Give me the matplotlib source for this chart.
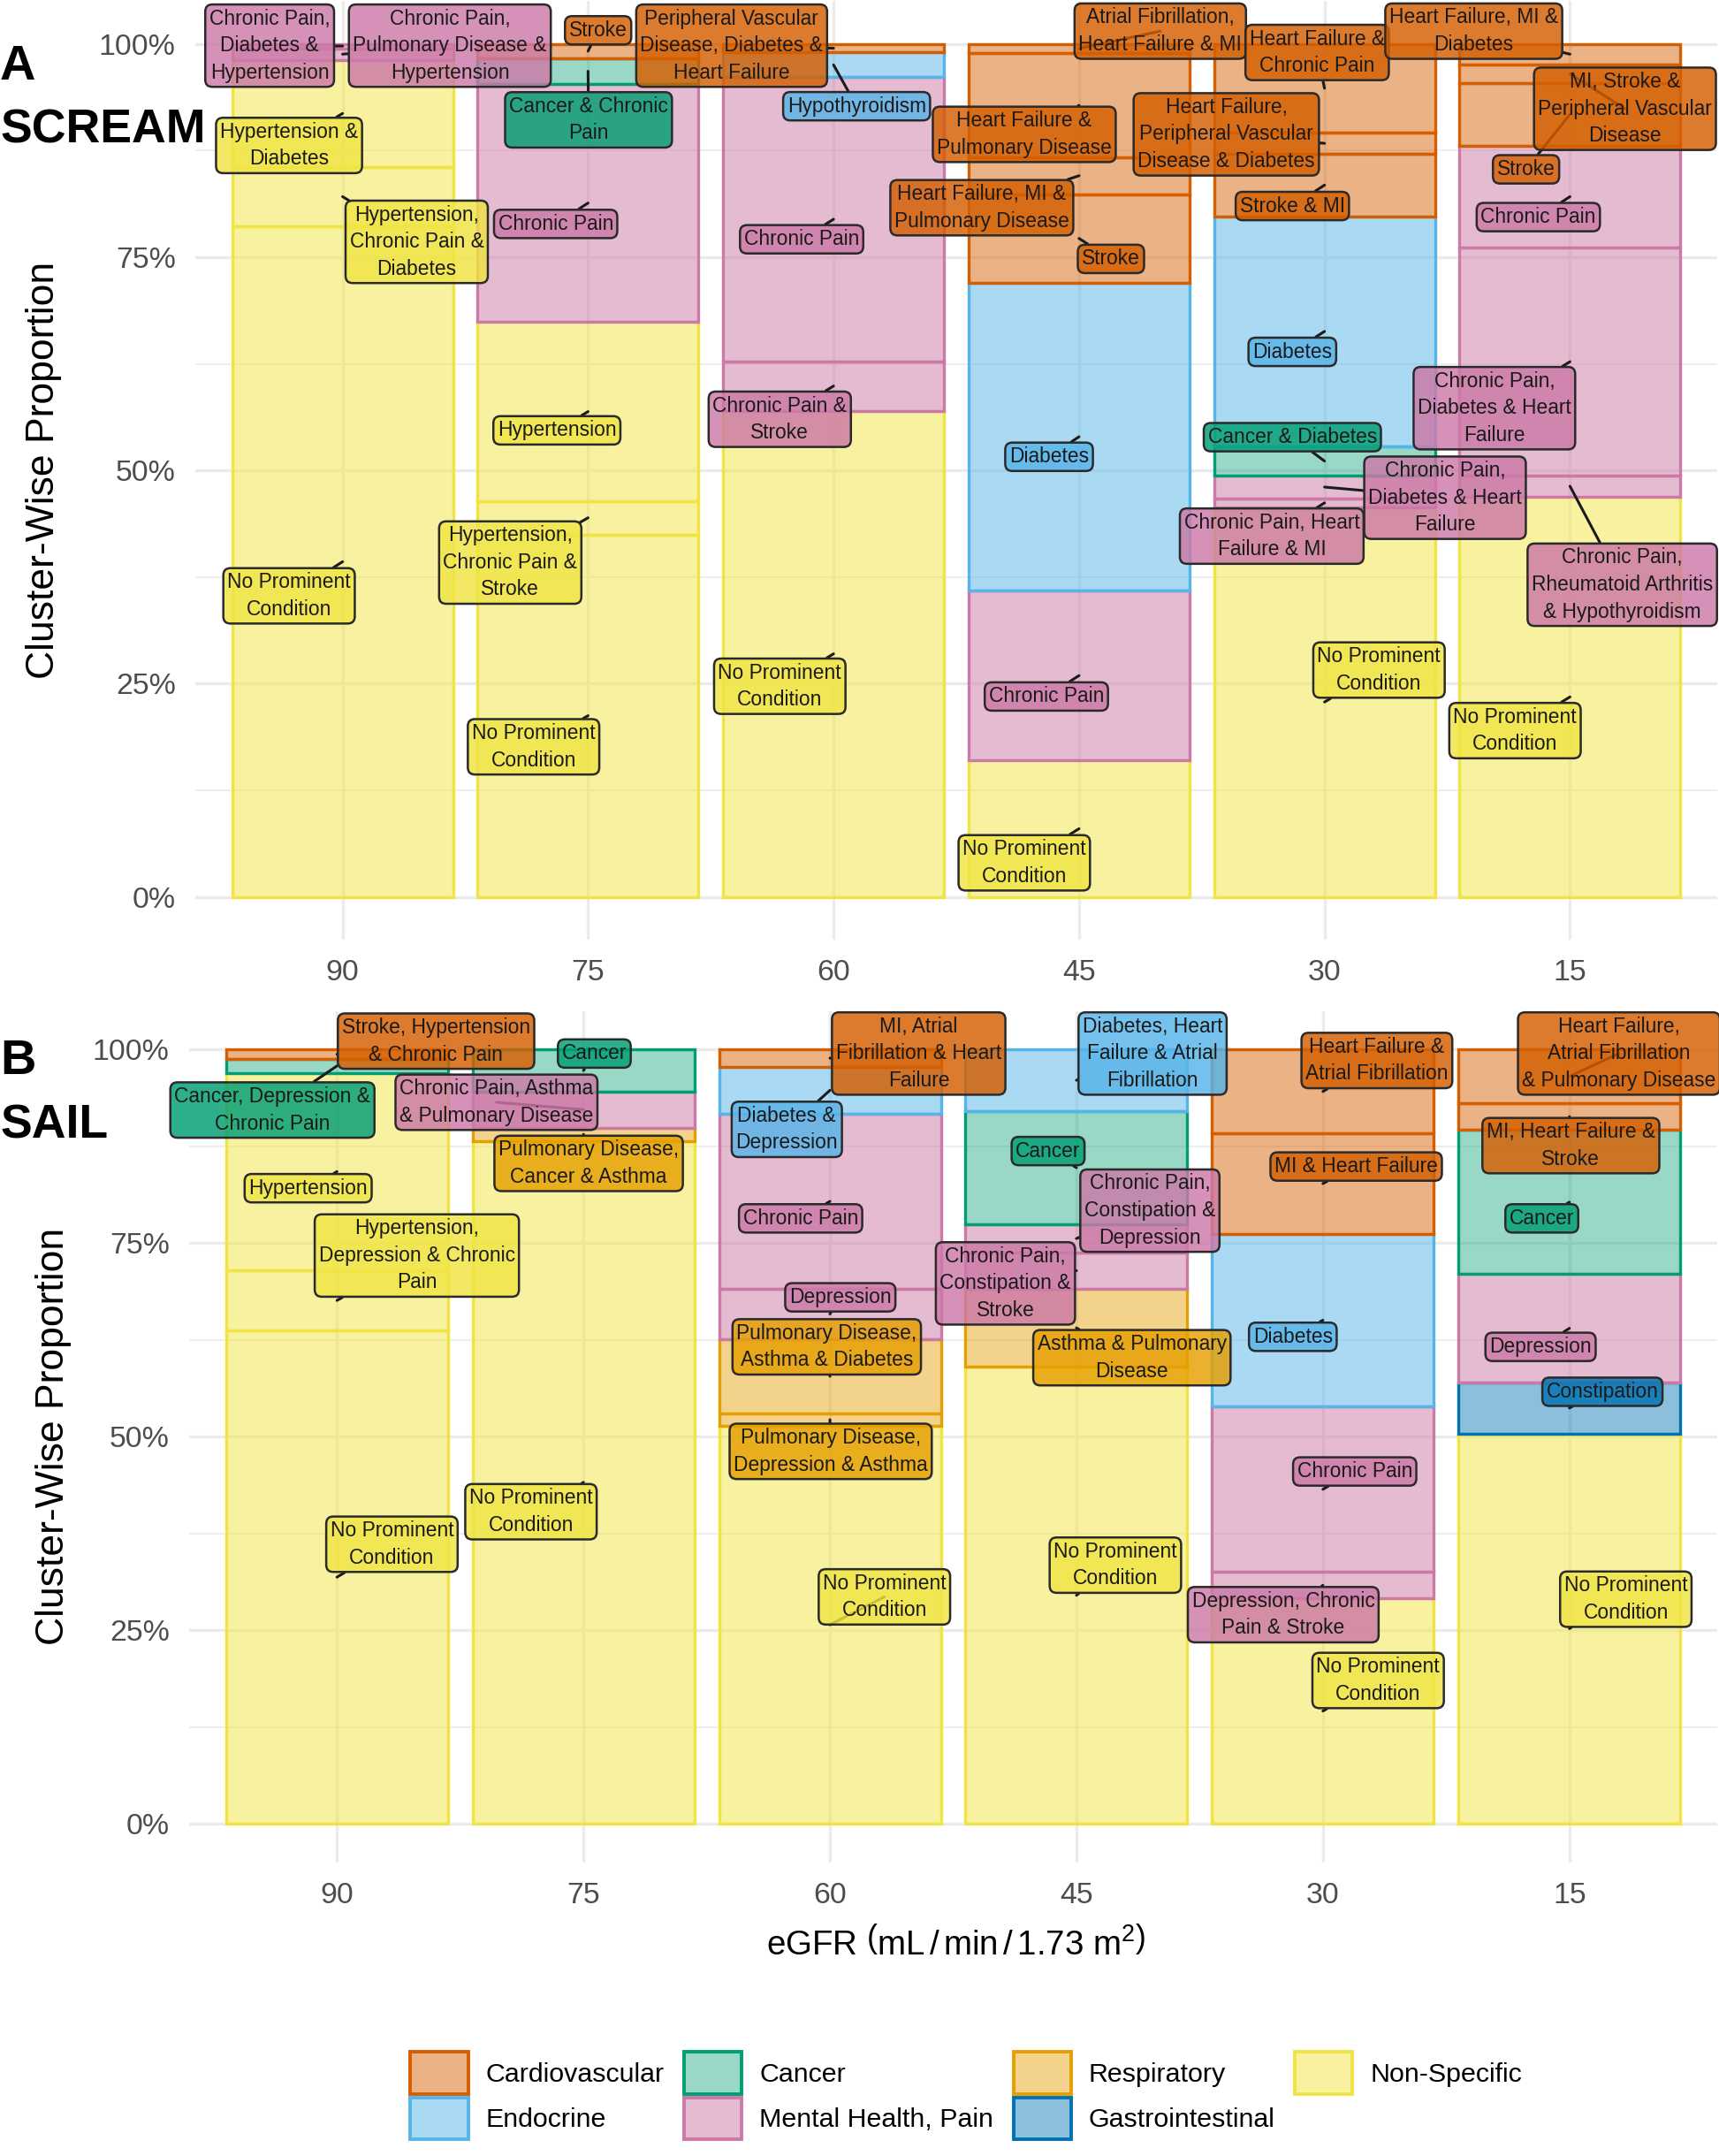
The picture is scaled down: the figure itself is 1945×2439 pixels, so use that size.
import matplotlib
matplotlib.use('Agg')
import matplotlib.pyplot as plt
from matplotlib import font_manager as fm
from matplotlib.colors import to_rgba
from matplotlib.patches import Patch
import numpy as np
import pandas as pd


def has_font(name):
    try:
        fm.findfont(fm.FontProperties(family=name), fallback_to_default=False)
        return True
    except Exception:
        return False


HAS_NARROW = has_font('Liberation Sans Narrow')
NARROW = 'Liberation Sans Narrow' if HAS_NARROW else 'Liberation Sans'
REG = 'Liberation Sans'
NS = 1.0 if HAS_NARROW else 0.84

# ---------------- data ----------------
EGFR_LEVELS = ['90', '75', '60', '45', '30', '15']
Y_TICKS = [0, 0.25, 0.5, 0.75, 1.0]
Y_TICK_LABELS = ['0%', '25%', '50%', '75%', '100%']

LEGEND_ORDER = ['Cardiovascular', 'Endocrine', 'Cancer', 'Mental Health, Pain',
                'Respiratory', 'Gastrointestinal', 'Non-Specific']
GROUP_COLOR = {
    'Cardiovascular': '#D55E00',
    'Endocrine': '#56B4E9',
    'Cancer': '#009E73',
    'Mental Health, Pain': '#CC79A7',
    'Respiratory': '#E69F00',
    'Gastrointestinal': '#0072B2',
    'Non-Specific': '#F0E442',
}
GROUP_ALPHA = {
    'Cardiovascular': 0.48,
    'Endocrine': 0.5,
    'Cancer': 0.4,
    'Mental Health, Pain': 0.5,
    'Respiratory': 0.45,
    'Gastrointestinal': 0.45,
    'Non-Specific': 0.5,
}

NPC = 'No Prominent\nCondition'
NSP = 'Non-Specific'
MHP = 'Mental Health, Pain'
CV = 'Cardiovascular'
END = 'Endocrine'
CAN = 'Cancer'
RES = 'Respiratory'
GI = 'Gastrointestinal'

# Panel A: SCREAM (segments listed bottom -> top within each eGFR bar)
SCREAM_EGFR = ['90', '90', '90', '90', '90',
               '75', '75', '75', '75', '75', '75',
               '60', '60', '60', '60', '60',
               '45', '45', '45', '45', '45', '45', '45',
               '30', '30', '30', '30', '30', '30', '30', '30',
               '15', '15', '15', '15', '15', '15', '15']
SCREAM_CLUSTER = [
    NPC, 'Hypertension,\nChronic Pain &\nDiabetes', 'Hypertension &\nDiabetes',
    'Chronic Pain,\nPulmonary Disease &\nHypertension', 'Chronic Pain,\nDiabetes &\nHypertension',
    NPC, 'Hypertension,\nChronic Pain &\nStroke', 'Hypertension', 'Chronic Pain',
    'Cancer & Chronic\nPain', 'Stroke',
    NPC, 'Chronic Pain &\nStroke', 'Chronic Pain', 'Hypothyroidism',
    'Peripheral Vascular\nDisease, Diabetes &\nHeart Failure',
    NPC, 'Chronic Pain', 'Diabetes', 'Stroke', 'Heart Failure, MI &\nPulmonary Disease',
    'Heart Failure &\nPulmonary Disease', 'Atrial Fibrillation,\nHeart Failure & MI',
    NPC, 'Chronic Pain, Heart\nFailure & MI', 'Chronic Pain,\nDiabetes & Heart\nFailure',
    'Cancer & Diabetes', 'Diabetes', 'Stroke & MI',
    'Heart Failure,\nPeripheral Vascular\nDisease & Diabetes', 'Heart Failure &\nChronic Pain',
    NPC, 'Chronic Pain,\nRheumatoid Arthritis\n& Hypothyroidism',
    'Chronic Pain,\nDiabetes & Heart\nFailure', 'Chronic Pain', 'Stroke',
    'MI, Stroke &\nPeripheral Vascular\nDisease', 'Heart Failure, MI &\nDiabetes',
]
SCREAM_GROUP = [
    NSP, NSP, NSP, MHP, MHP,
    NSP, NSP, NSP, MHP, CAN, CV,
    NSP, MHP, MHP, END, CV,
    NSP, MHP, END, CV, CV, CV, CV,
    NSP, MHP, MHP, CAN, END, CV, CV, CV,
    NSP, MHP, MHP, MHP, CV, CV, CV,
]
SCREAM_SHARE = [
    78.6, 7.0, 12.5, 1.4, 0.5,
    42.5, 3.9, 21.0, 27.9, 3.0, 1.7,
    57.0, 5.8, 33.3, 2.9, 1.0,
    16.0, 19.9, 36.1, 10.4, 4.3, 12.2, 1.1,
    45.7, 1.0, 2.7, 3.4, 27.0, 7.3, 2.5, 10.4,
    46.9, 2.5, 26.7, 12.0, 7.3, 2.2, 2.4,
]

# Panel B: SAIL
SAIL_EGFR = ['90', '90', '90', '90', '90',
             '75', '75', '75', '75',
             '60', '60', '60', '60', '60', '60', '60',
             '45', '45', '45', '45', '45', '45',
             '30', '30', '30', '30', '30', '30',
             '15', '15', '15', '15', '15', '15']
SAIL_CLUSTER = [
    NPC, 'Hypertension,\nDepression & Chronic\nPain', 'Hypertension',
    'Cancer, Depression &\nChronic Pain', 'Stroke, Hypertension\n& Chronic Pain',
    NPC, 'Pulmonary Disease,\nCancer & Asthma', 'Chronic Pain, Asthma\n& Pulmonary Disease', 'Cancer',
    NPC, 'Pulmonary Disease,\nDepression & Asthma', 'Pulmonary Disease,\nAsthma & Diabetes',
    'Depression', 'Chronic Pain', 'Diabetes &\nDepression', 'MI, Atrial\nFibrillation & Heart\nFailure',
    NPC, 'Asthma & Pulmonary\nDisease', 'Chronic Pain,\nConstipation &\nStroke',
    'Chronic Pain,\nConstipation &\nDepression', 'Cancer', 'Diabetes, Heart\nFailure & Atrial\nFibrillation',
    NPC, 'Depression, Chronic\nPain & Stroke', 'Chronic Pain', 'Diabetes', 'MI & Heart Failure',
    'Heart Failure &\nAtrial Fibrillation',
    NPC, 'Constipation', 'Depression', 'Cancer', 'MI, Heart Failure &\nStroke',
    'Heart Failure,\nAtrial Fibrillation\n& Pulmonary Disease',
]
SAIL_GROUP = [
    NSP, NSP, NSP, CAN, CV,
    NSP, RES, MHP, CAN,
    NSP, RES, RES, MHP, MHP, END, CV,
    NSP, RES, MHP, MHP, CAN, END,
    NSP, MHP, MHP, END, CV, CV,
    NSP, GI, MHP, CAN, CV, CV,
]
SAIL_SHARE = [
    63.7, 7.8, 25.5, 1.8, 1.2,
    88.2, 1.7, 4.7, 5.4,
    51.4, 1.6, 9.6, 6.5, 22.6, 6.1, 2.2,
    59.0, 10.1, 4.7, 3.6, 14.7, 7.9,
    29.1, 3.4, 21.4, 22.3, 13.0, 10.8,
    50.4, 6.6, 14.0, 18.6, 3.5, 6.9,
]

# ---------------- layout (label box centres, data units) ----------------
SCREAM_LAB_X = [-0.218, 0.302, -0.218, 0.437, -0.297,
                0.778, 0.683, 0.873, 0.868, 1.002, 1.041,
                1.781, 1.781, 1.870, 2.094, 1.585,
                2.777, 2.867, 2.878, 3.130, 2.604, 2.777, 3.331,
                4.222, 3.785, 4.491, 3.869, 3.869, 3.869, 3.600, 3.970,
                4.776, 5.213, 4.692, 4.871, 4.821, 5.224, 4.608]
SCREAM_LAB_Y = [0.353, 0.768, 0.881, 0.998, 0.998,
                0.176, 0.392, 0.547, 0.789, 0.911, 1.016,
                0.247, 0.560, 0.771, 0.927, 0.998,
                0.040, 0.235, 0.516, 0.748, 0.808, 0.894, 1.015,
                0.266, 0.423, 0.468, 0.539, 0.639, 0.810, 0.894, 0.990,
                0.195, 0.366, 0.573, 0.797, 0.853, 0.924, 1.015]
SAIL_LAB_X = [0.223, 0.324, -0.117, -0.262, 0.402,
              0.787, 1.021, 0.647, 1.044,
              2.221, 2.003, 1.987, 2.042, 1.881, 1.825, 2.360,
              3.158, 3.225, 2.712, 3.298, 2.885, 3.309,
              4.224, 3.839, 4.129, 3.878, 4.135, 4.219,
              5.229, 5.134, 4.883, 4.888, 5.006, 5.201]
SAIL_LAB_Y = [0.361, 0.734, 0.821, 0.922, 1.011,
              0.403, 0.853, 0.932, 0.995,
              0.293, 0.481, 0.616, 0.680, 0.782, 0.897, 0.995,
              0.334, 0.602, 0.698, 0.792, 0.869, 0.995,
              0.185, 0.270, 0.455, 0.629, 0.849, 0.986,
              0.290, 0.558, 0.616, 0.782, 0.876, 0.995]

plt.rcParams['mathtext.fontset'] = 'custom'
plt.rcParams['mathtext.rm'] = NARROW
plt.rcParams['mathtext.it'] = NARROW + ':italic'

fig = plt.figure(figsize=(19.45, 24.39), dpi=100)
fig.patch.set_facecolor('white')

GRID_COL = '#EBEBEB'
TICK_COL = '#4D4D4D'


def style_axes(ax):
    ax.set_xlim(-0.6, len(EGFR_LEVELS) - 0.4)
    ax.set_ylim(-0.05, 1.05)
    ax.set_xticks(range(len(EGFR_LEVELS)))
    ax.set_xticklabels(EGFR_LEVELS)
    ax.set_yticks(Y_TICKS)
    ax.set_yticklabels(Y_TICK_LABELS)
    ax.set_yticks([0.125, 0.375, 0.625, 0.875], minor=True)
    for s in ax.spines.values():
        s.set_visible(False)
    ax.tick_params(which='both', length=0)
    ax.tick_params(axis='y', pad=16, labelsize=29 * NS, labelcolor=TICK_COL)
    ax.tick_params(axis='x', pad=16, labelsize=29 * NS, labelcolor=TICK_COL)
    for lab in ax.get_xticklabels() + ax.get_yticklabels():
        lab.set_fontfamily(NARROW)
    ax.grid(which='major', color=GRID_COL, lw=2.4)
    ax.grid(which='minor', axis='y', color=GRID_COL, lw=1.2)
    ax.set_axisbelow(True)
    ax.set_facecolor('white')


def draw_panel(ax, egfr, cluster, group, share, lab_x, lab_y):
    df = pd.DataFrame({'egfr': egfr, 'cluster': cluster, 'group': group,
                       'share': np.asarray(share, dtype=float) / 100.0})
    df['pos'] = df['egfr'].map({k: i for i, k in enumerate(EGFR_LEVELS)})
    df['bottom'] = df.groupby('egfr', sort=False)['share'].cumsum() - df['share']
    df['mid'] = df['bottom'] + df['share'] / 2
    for _, r in df.iterrows():
        col = GROUP_COLOR[r['group']]
        ax.bar(r['pos'], r['share'], bottom=r['bottom'], width=0.9,
               facecolor=to_rgba(col, GROUP_ALPHA[r['group']]), edgecolor=col,
               linewidth=2.4, zorder=2)
    for i, r in df.iterrows():
        col = GROUP_COLOR[r['group']]
        ax.annotate(r['cluster'], xy=(r['pos'], r['mid']), xytext=(lab_x[i], lab_y[i]),
                    textcoords='data', ha='center', va='center', multialignment='center',
                    fontsize=19.5 * NS, fontfamily=NARROW, color='#1A1A1A', linespacing=1.42,
                    bbox=dict(boxstyle='round,pad=0.2,rounding_size=0.35',
                              fc=to_rgba(col, 0.82), ec='#2A2A2A', lw=1.8),
                    arrowprops=dict(arrowstyle='-', color='#1A1A1A', lw=2.2,
                                    shrinkA=0, shrinkB=0),
                    annotation_clip=False, zorder=6)
    style_axes(ax)


axA = fig.add_axes([0.1136, 0.5642, 0.8854, 0.4352])
draw_panel(axA, SCREAM_EGFR, SCREAM_CLUSTER, SCREAM_GROUP, SCREAM_SHARE, SCREAM_LAB_X, SCREAM_LAB_Y)
axA.set_ylabel('Cluster-Wise Proportion', fontsize=32, fontfamily=REG, color='black')
axA.yaxis.set_label_coords(-0.0877, 0.5)

axB = fig.add_axes([0.110, 0.1362, 0.889, 0.3949])
draw_panel(axB, SAIL_EGFR, SAIL_CLUSTER, SAIL_GROUP, SAIL_SHARE, SAIL_LAB_X, SAIL_LAB_Y)
axB.set_ylabel('Cluster-Wise Proportion', fontsize=32, fontfamily=REG, color='black')
axB.yaxis.set_label_coords(-0.0769, 0.5)

fig.text(0.556, 0.0984, r'eGFR $\left(\mathrm{mL\,/\,min\,/\,1.73\ m^{2}}\right)$',
         ha='center', va='center', fontsize=33 * NS, fontfamily=NARROW, color='black')

# panel tags
TAG = dict(fontweight='bold', fontfamily=NARROW, ha='left', va='center', color='black')
fig.text(0.0, 1 - 0.031, 'A', fontsize=48 * NS, **TAG)
fig.text(0.0, 1 - 0.0606, 'SCREAM', fontsize=46 * NS, **TAG)
fig.text(0.0, 1 - 0.4925, 'B', fontsize=48 * NS, **TAG)
fig.text(0.0, 1 - 0.522, 'SAIL', fontsize=46 * NS, **TAG)

handles = [Patch(facecolor=to_rgba(GROUP_COLOR[g], GROUP_ALPHA[g]), edgecolor=GROUP_COLOR[g],
                 linewidth=2.8, label=g)
           for g in LEGEND_ORDER]
leg = fig.legend(handles=handles, loc='center', bbox_to_anchor=(0.562, 0.028), ncol=4,
                 frameon=False, prop={'family': NARROW, 'size': 26 * NS},
                 handlelength=2.15, handleheight=2.05, handletextpad=0.65,
                 columnspacing=0.75, labelspacing=0.12)

fig.savefig('out.png', dpi=100, facecolor='white')
